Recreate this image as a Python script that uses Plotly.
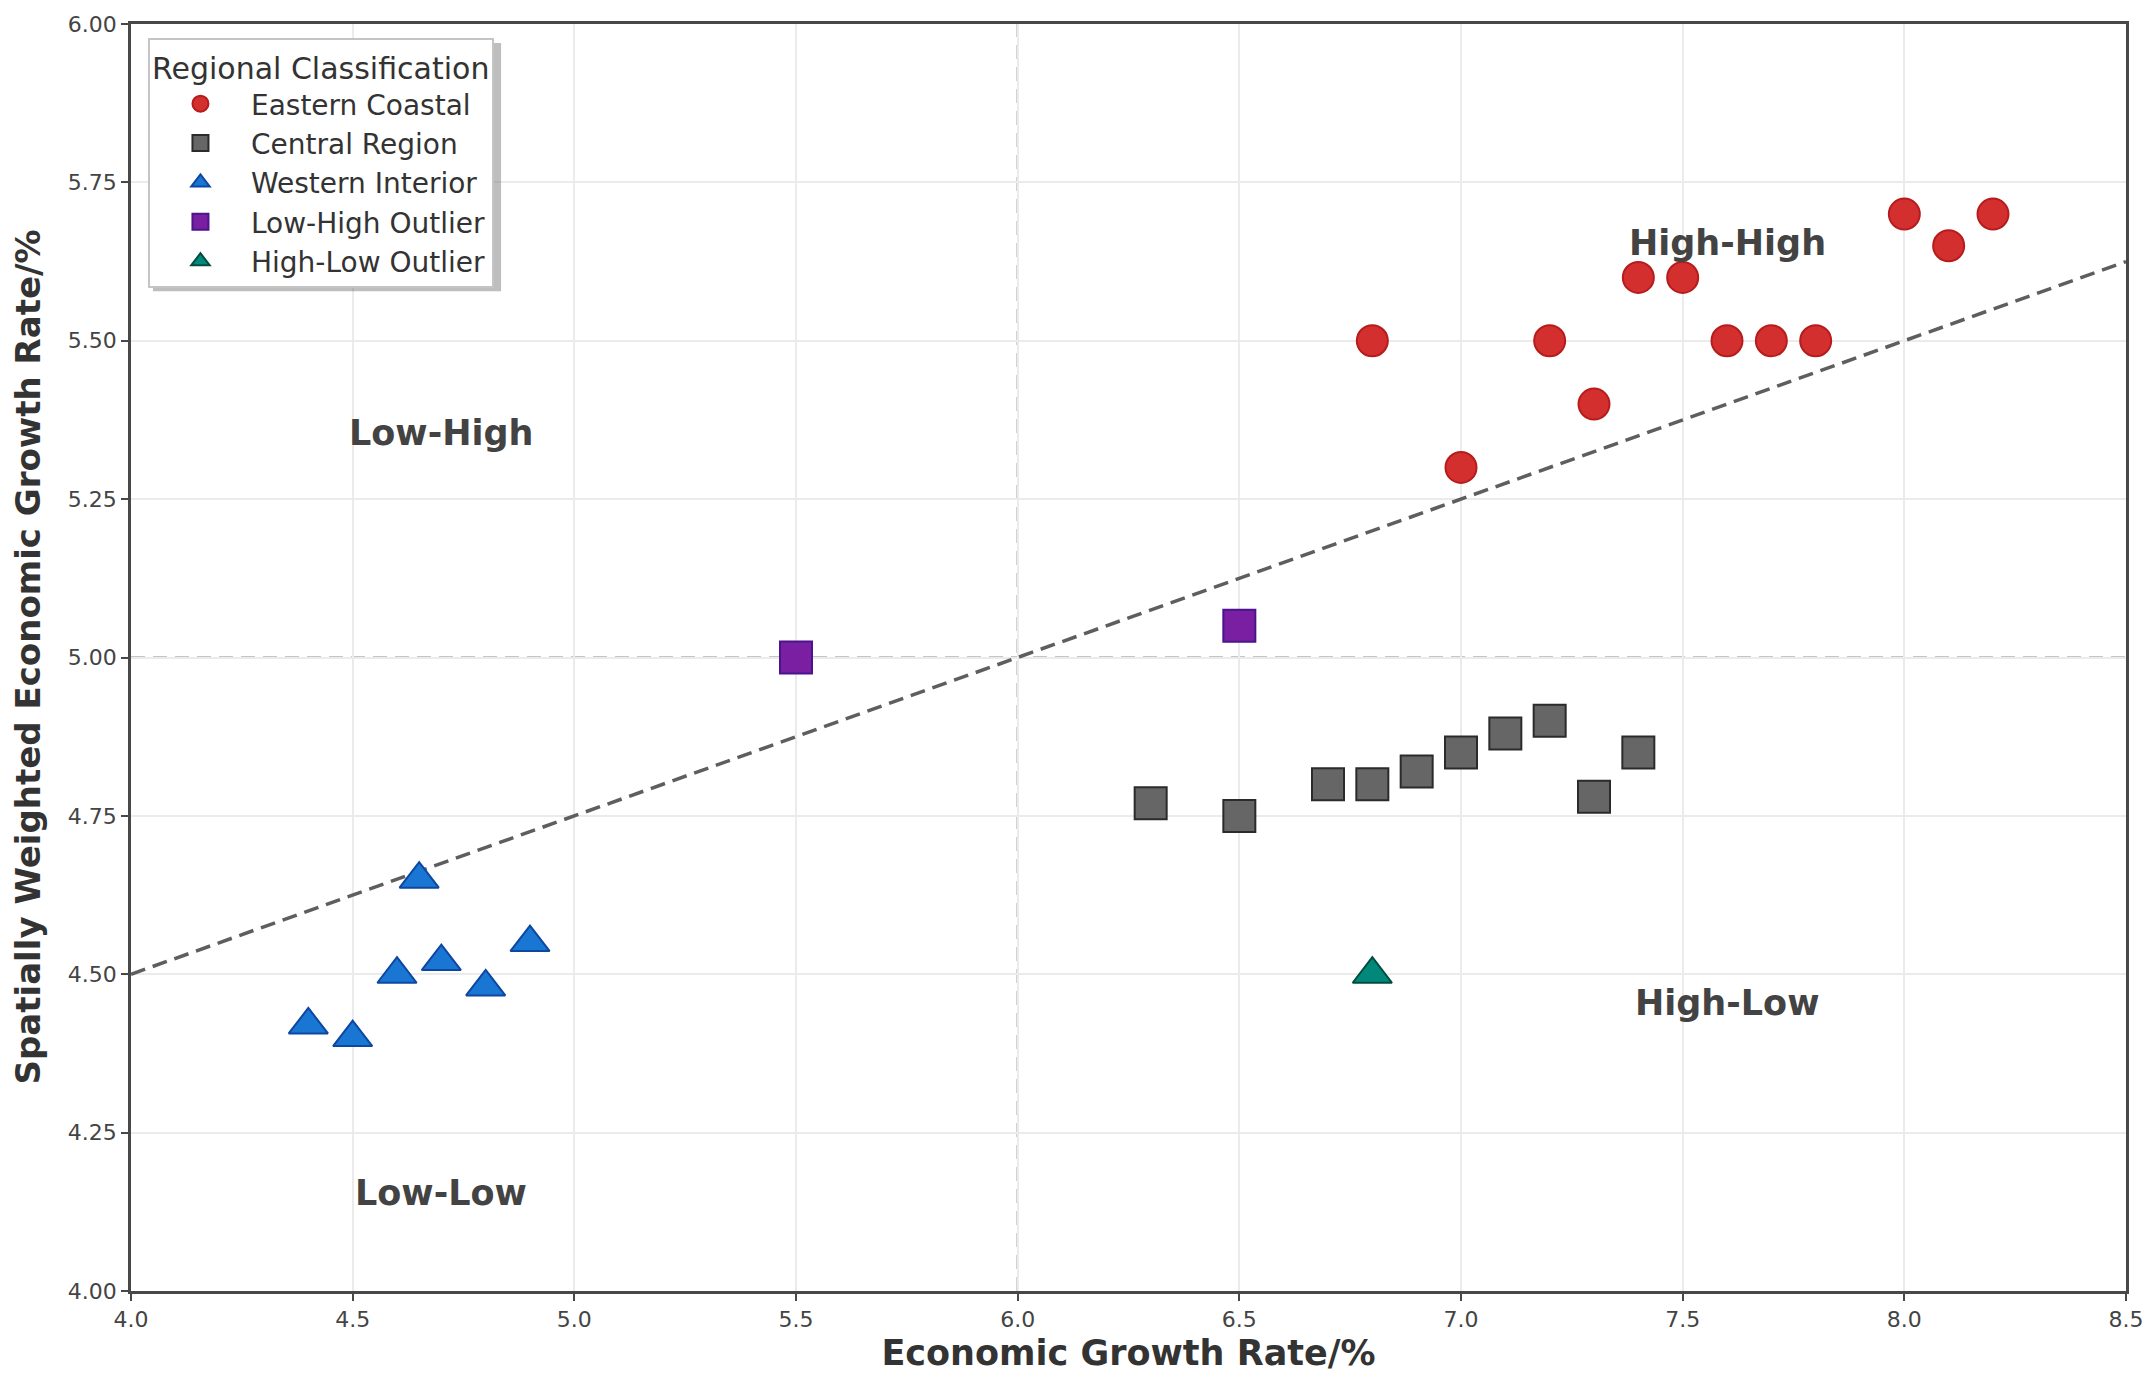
import plotly.graph_objects as go

# ---- data ----
east_x = [6.8, 7.0, 7.2, 7.3, 7.4, 7.5, 7.6, 7.7, 7.8, 8.0, 8.1, 8.2]
east_y = [5.50, 5.30, 5.50, 5.40, 5.60, 5.60, 5.50, 5.50, 5.50, 5.70, 5.65, 5.70]

central_x = [6.3, 6.5, 6.7, 6.8, 6.9, 7.0, 7.1, 7.2, 7.3, 7.4]
central_y = [4.77, 4.75, 4.80, 4.80, 4.82, 4.85, 4.88, 4.90, 4.78, 4.85]

west_x = [4.4, 4.5, 4.6, 4.65, 4.7, 4.8, 4.9]
west_y = [4.42, 4.40, 4.50, 4.65, 4.52, 4.48, 4.55]

lh_x = [5.5, 6.5]
lh_y = [5.00, 5.05]

hl_x = [6.8]
hl_y = [4.50]

fit_x = [4.0, 8.5]
fit_y = [4.50, 5.625]

mean_x = 6.0
mean_y = 5.0

quad_labels = ["High-High", "Low-High", "High-Low", "Low-Low"]
quad_x = [7.6, 4.7, 7.6, 4.7]
quad_y = [5.655, 5.355, 4.455, 4.155]

x_ticks = [4.0, 4.5, 5.0, 5.5, 6.0, 6.5, 7.0, 7.5, 8.0, 8.5]
y_ticks = [4.00, 4.25, 4.50, 4.75, 5.00, 5.25, 5.50, 5.75, 6.00]

FONT = "DejaVu Sans"

fig = go.Figure()

# reference lines (means)
fig.add_shape(type="line", x0=mean_x, x1=mean_x, y0=0, y1=1, xref="x", yref="paper",
              line=dict(color="#b3b3b3", width=2.5, dash="14px,8px"), layer="below")
fig.add_shape(type="line", x0=0, x1=1, y0=mean_y, y1=mean_y, xref="paper", yref="y",
              line=dict(color="#b3b3b3", width=2.5, dash="14px,8px"), layer="below")

# legend drop shadow (decoration)
fig.add_shape(type="rect", xref="paper", yref="paper",
              x0=0.011, x1=0.1855, y0=0.789, y1=0.985,
              line=dict(width=0), fillcolor="rgba(110,110,110,0.45)", layer="above")

# regression line
fig.add_trace(go.Scatter(x=fit_x, y=fit_y, mode="lines", showlegend=False,
                         line=dict(color="#5e5e5e", width=3.5, dash="15px,8px"),
                         hoverinfo="skip"))

def add_group(x, y, name, symbol, fill, edge, size):
    fig.add_trace(go.Scatter(
        x=x, y=y, mode="markers", name=name, legendgroup=name,
        marker=dict(symbol=symbol, size=size, color=fill,
                    line=dict(color=edge, width=2))))

add_group(east_x, east_y, "Eastern Coastal", "circle", "#D32F2F", "#B71C1C", 31)
add_group(central_x, central_y, "Central Region", "square", "#666666", "#2b2b2b", 32)
add_group(west_x, west_y, "Western Interior", "triangle-up", "#1976D2", "#0D47A1", 34)
add_group(lh_x, lh_y, "Low-High Outlier", "square", "#7B1FA2", "#4A148C", 32)
add_group(hl_x, hl_y, "High-Low Outlier", "triangle-up", "#00897B", "#004D40", 34)

for t, qx, qy in zip(quad_labels, quad_x, quad_y):
    fig.add_annotation(x=qx, y=qy, text="<b>" + t + "</b>", showarrow=False,
                       font=dict(family=FONT, size=35, color="#434343"))

# y-axis title placed precisely
fig.add_annotation(xref="paper", yref="paper", x=0, y=0.5, xshift=-104,
                   text="<b>Spatially Weighted Economic Growth Rate/%</b>",
                   textangle=-90, showarrow=False, xanchor="center", yanchor="middle",
                   font=dict(family=FONT, size=34, color="#333333"))

fig.update_layout(
    width=2156, height=1381,
    margin=dict(l=131, r=27, t=24, b=90),
    paper_bgcolor="white", plot_bgcolor="white",
    font=dict(family=FONT, color="#333333"),
    legend=dict(
        title=dict(text="Regional Classification", font=dict(family=FONT, size=30, color="#333333")),
        font=dict(family=FONT, size=28, color="#333333"),
        x=0.0085, y=0.989, xanchor="left", yanchor="top",
        bgcolor="#ffffff", bordercolor="#c4c4c4", borderwidth=2,
        itemsizing="trace", tracegroupgap=0, itemwidth=91,
    ),
)

fig.update_xaxes(
    range=[4.0, 8.5], tickvals=x_ticks, ticktext=[f"{v:.1f}" for v in x_ticks],
    showgrid=True, gridcolor="#ebebeb", gridwidth=1.5, zeroline=False,
    showline=True, linecolor="#484848", linewidth=2.5, mirror=True,
    ticks="outside", ticklen=7, tickwidth=2, tickcolor="#484848",
    tickfont=dict(family=FONT, size=22, color="#444444"),
    title=dict(text="<b>Economic Growth Rate/%</b>", font=dict(family=FONT, size=35, color="#333333"),
               standoff=10),
)
fig.update_yaxes(
    range=[4.0, 6.0], tickvals=y_ticks, ticktext=[f"{v:.2f}" for v in y_ticks],
    showgrid=True, gridcolor="#ebebeb", gridwidth=1.5, zeroline=False,
    showline=True, linecolor="#484848", linewidth=2.5, mirror=True,
    ticks="outside", ticklen=7, tickwidth=2, tickcolor="#484848",
    tickfont=dict(family=FONT, size=22, color="#444444"),
)

fig.write_html("out.html")
